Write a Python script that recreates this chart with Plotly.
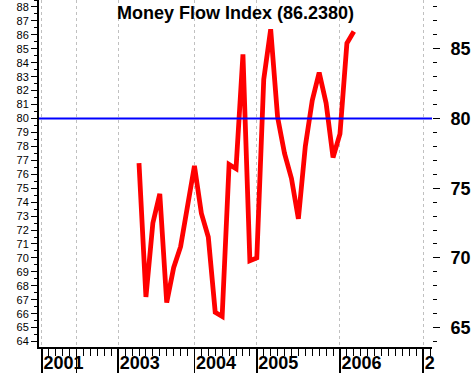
import plotly.graph_objects as go

# ---- data (monthly bars, x = bar index on the chart's bar axis) ----
mfi_values = [76.8, 67.2, 72.5, 74.6, 66.8, 69.3, 70.8, 73.7, 76.6, 73.2,
              71.5, 66.1, 65.8, 76.7, 76.4, 84.6, 69.8, 70.0, 82.8, 86.4,
              80.1, 77.5, 75.7, 72.8, 78.0, 81.3, 83.3, 81.1, 77.2, 78.9,
              85.4, 86.238]
first_bar = 14
bar_index = list(range(first_bar, first_bar + len(mfi_values)))

year_bars = [0, 5, 11, 22, 31, 43, 55]
year_labels = ["2001", "", "2003", "2004", "2005", "2006", "2"]

threshold = 80
left_ticks = list(range(64, 89))
right_ticks = [65, 70, 75, 80, 85]
title_text = "Money Flow Index (86.2380)"

x_range = [-0.43, 56.28]
y_range = [63.61, 88.5]

FONT = "Arial, Liberation Sans, sans-serif"

fig = go.Figure()
fig.add_trace(go.Scatter(
    x=bar_index, y=mfi_values, mode="lines",
    line=dict(color="#ff0000", width=4.8),
    showlegend=False, hoverinfo="skip"))
# invisible trace to activate the right axis
fig.add_trace(go.Scatter(
    x=[bar_index[0]], y=[mfi_values[0]], yaxis="y2", mode="markers",
    marker=dict(opacity=0), showlegend=False, hoverinfo="skip"))

fig.add_hline(y=threshold, line=dict(color="#0000ff", width=2), layer="above")

fig.add_annotation(
    text=title_text, xref="paper", yref="paper", x=0.5, y=1 - 13 / 347,
    xanchor="center", yanchor="middle", showarrow=False,
    font=dict(family=FONT, size=18, color="black", weight="bold"))

fig.update_layout(
    width=472, height=373,
    margin=dict(l=39, r=40, t=0, b=26, pad=0, autoexpand=False),
    paper_bgcolor="white", plot_bgcolor="white",
    showlegend=False,
    font=dict(family=FONT, color="black"),
    xaxis=dict(
        range=x_range, tickmode="array", tickvals=year_bars, ticktext=year_labels,
        ticks="outside", ticklen=26, tickwidth=1.5, tickcolor="black",
        ticklabelposition="outside right", ticklabelstandoff=-1,
        tickfont=dict(family=FONT, size=18, color="black", weight="bold"),
        showline=True, linecolor="black", linewidth=1.5,
        showgrid=True, gridcolor="#c0c0c0", griddash="3px,3px", gridwidth=1,
        zeroline=False, fixedrange=True, automargin=False,
        minor=dict(tickmode="linear", tick0=0, dtick=1, ticks="outside",
                   ticklen=7, tickcolor="black", tickwidth=1, showgrid=False)),
    yaxis=dict(
        range=y_range, tickmode="array", tickvals=left_ticks,
        ticks="outside", ticklen=6, tickcolor="black", tickwidth=1,
        tickfont=dict(family=FONT, size=11, color="black"),
        showline=True, linecolor="black", linewidth=2,
        showgrid=False, zeroline=False, fixedrange=True, automargin=False,
        minor=dict(tickmode="linear", tick0=0, dtick=0.5, ticks="outside",
                   ticklen=3, tickcolor="black", tickwidth=1, showgrid=False)),
    yaxis2=dict(
        range=y_range, overlaying="y", side="right", anchor="x",
        tickmode="array", tickvals=right_ticks,
        ticks="outside", ticklen=7, tickcolor="black", tickwidth=1,
        ticklabelstandoff=7,
        tickfont=dict(family=FONT, size=18, color="black", weight="bold"),
        showline=False, showgrid=False, zeroline=False, fixedrange=True,
        automargin=False,
        minor=dict(tickmode="linear", tick0=0, dtick=1, ticks="outside",
                   ticklen=4, tickcolor="black", tickwidth=1, showgrid=False)),
)

fig.write_html(
    "out.html",
    config={"displayModeBar": False, "staticPlot": True},
    post_script="document.body.style.margin='0px';document.body.style.overflow='hidden';",
)
